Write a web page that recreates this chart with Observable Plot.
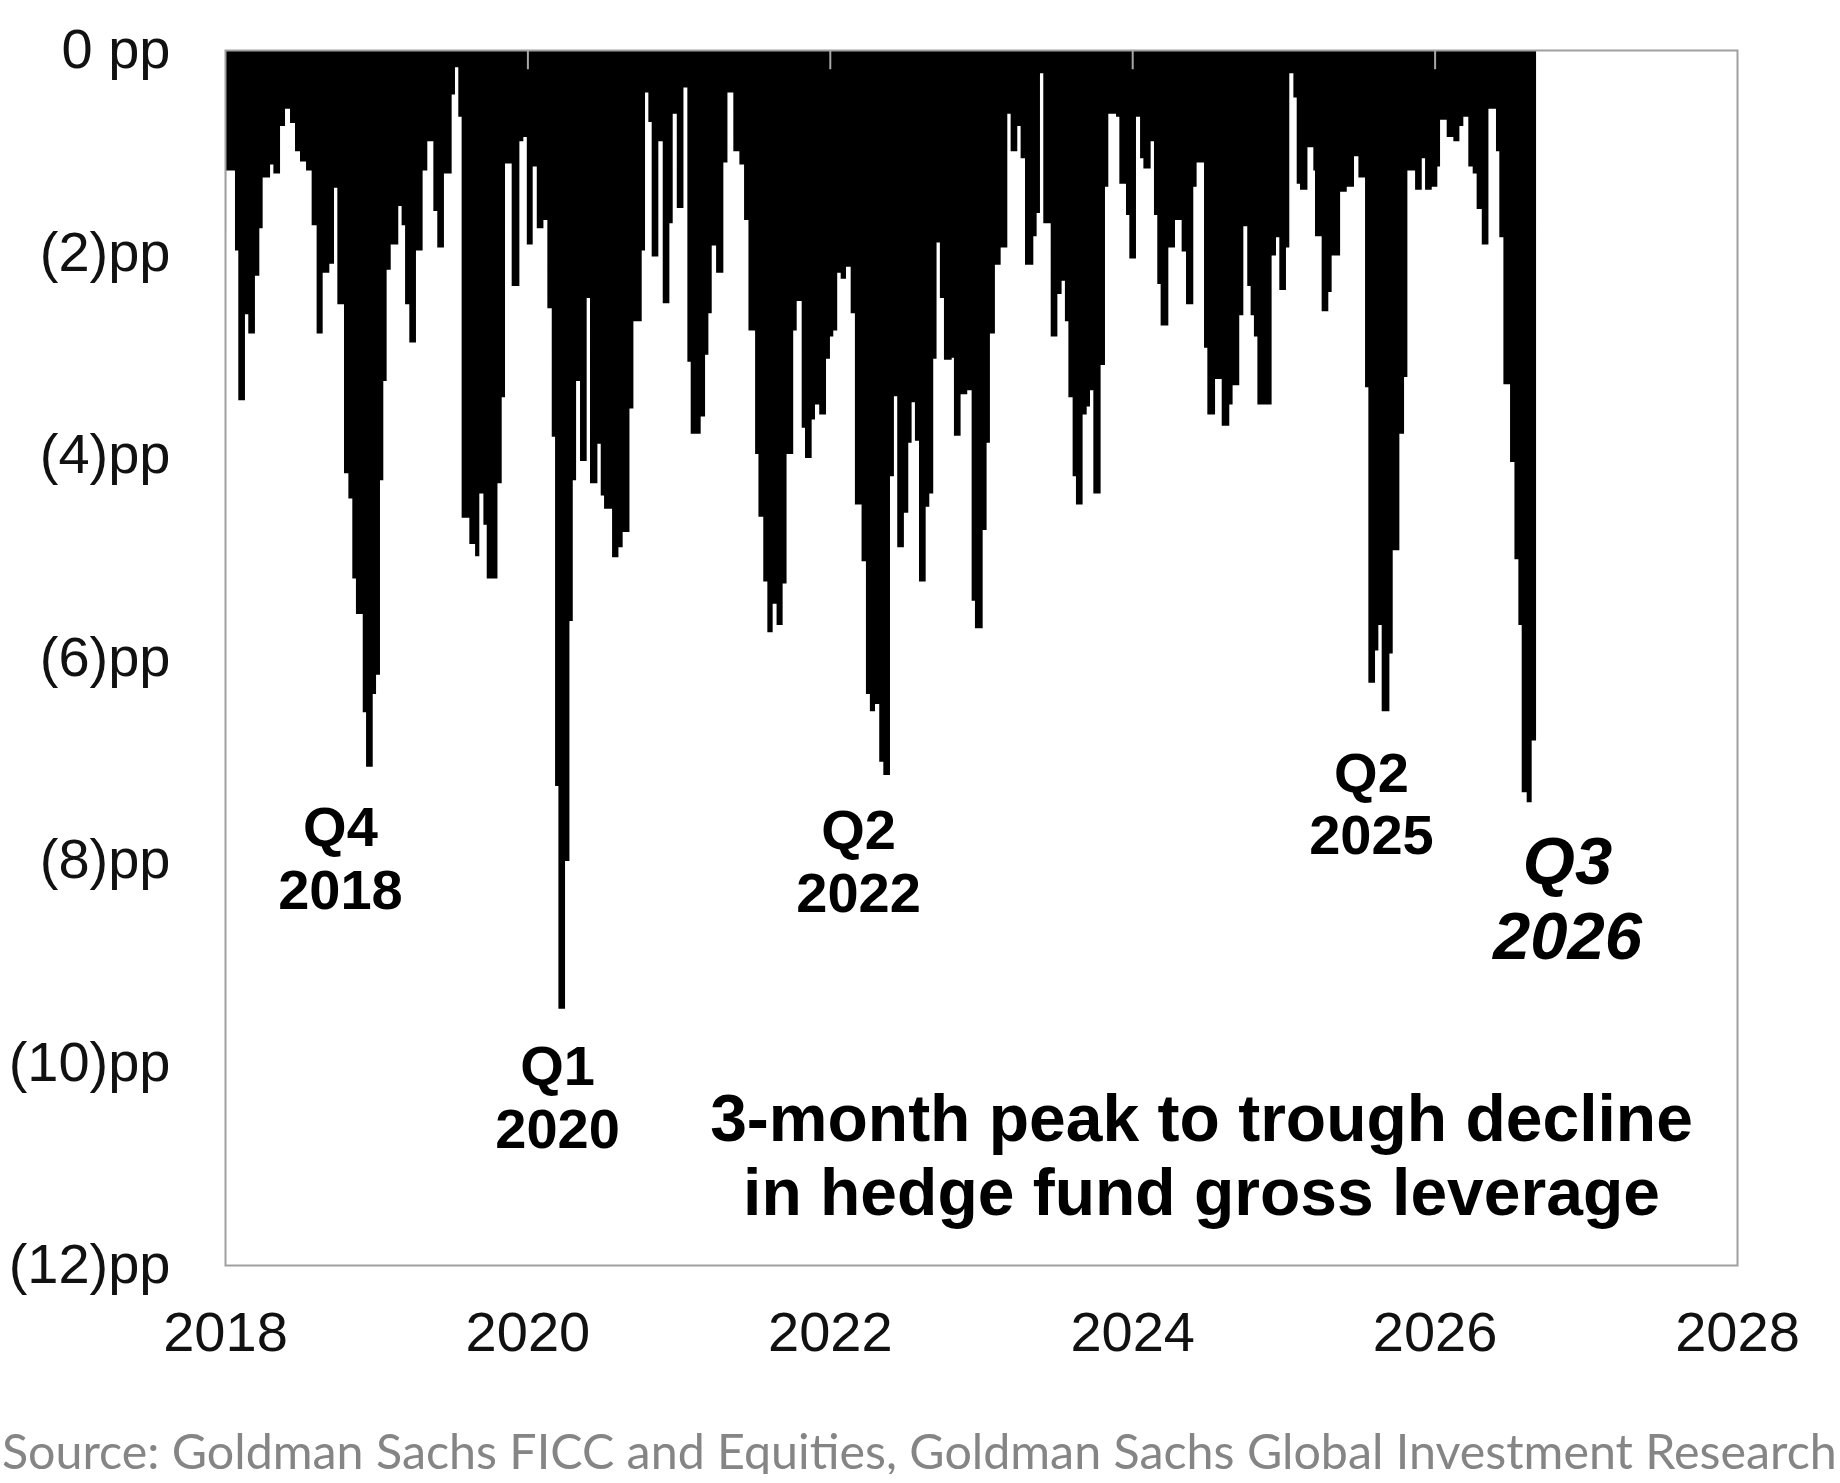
<!DOCTYPE html>
<html>
<head>
<meta charset="utf-8">
<script src="https://cdn.jsdelivr.net/npm/d3@7"></script>
<script src="https://cdn.jsdelivr.net/npm/@observablehq/plot@0.6"></script>
<style>
  html, body { margin: 0; padding: 0; background: #fff; }
  #chart svg { display: block; }
  #source {
    font-family: Lato, "Open Sans", sans-serif;
    color: #858585;
    white-space: nowrap;
    line-height: 1;
    margin-top: 26px;
    margin-left: 2px;
    font-size: 46px;
  }
</style>
</head>
<body>
<div id="chart"></div>
<div id="source"><span id="srcspan">Source: Goldman Sachs FICC and Equities, Goldman Sachs Global Investment Research</span></div>
<script>
// Week start (decimal year) and 3-month peak-to-trough decline in HF gross leverage (pp)
const weekStart = [
  2018.000, 2018.007, 2018.066, 2018.088, 2018.132, 2018.154, 2018.198, 2018.227, 2018.249, 2018.298,
  2018.320, 2018.364, 2018.397, 2018.430, 2018.463, 2018.496, 2018.536, 2018.573, 2018.606, 2018.646,
  2018.690, 2018.721, 2018.743, 2018.787, 2018.816, 2018.842, 2018.866, 2018.911, 2018.933, 2018.977,
  2018.999, 2019.025, 2019.047, 2019.069, 2019.096, 2019.146, 2019.168, 2019.191, 2019.219, 2019.263,
  2019.307, 2019.338, 2019.378, 2019.404, 2019.448, 2019.499, 2019.521, 2019.543, 2019.565, 2019.616,
  2019.654, 2019.682, 2019.709, 2019.731, 2019.802, 2019.830, 2019.852, 2019.896, 2019.947, 2019.973,
  2019.996, 2020.035, 2020.062, 2020.106, 2020.132, 2020.161, 2020.183, 2020.205, 2020.249, 2020.278,
  2020.300, 2020.322, 2020.348, 2020.392, 2020.414, 2020.463, 2020.485, 2020.507, 2020.560, 2020.602,
  2020.630, 2020.675, 2020.701, 2020.756, 2020.778, 2020.800, 2020.822, 2020.866, 2020.895, 2020.939,
  2020.961, 2020.988, 2021.032, 2021.058, 2021.080, 2021.146, 2021.175, 2021.197, 2021.219, 2021.248,
  2021.296, 2021.323, 2021.362, 2021.402, 2021.433, 2021.462, 2021.506, 2021.528, 2021.560, 2021.587,
  2021.622, 2021.648, 2021.688, 2021.714, 2021.758, 2021.781, 2021.814, 2021.836, 2021.880, 2021.902,
  2021.930, 2021.975, 2022.001, 2022.023, 2022.049, 2022.072, 2022.107, 2022.138, 2022.166, 2022.210,
  2022.239, 2022.265, 2022.299, 2022.327, 2022.354, 2022.398, 2022.424, 2022.446, 2022.490, 2022.519,
  2022.541, 2022.563, 2022.590, 2022.634, 2022.658, 2022.684, 2022.706, 2022.728, 2022.755, 2022.806,
  2022.821, 2022.865, 2022.909, 2022.938, 2022.960, 2023.011, 2023.037, 2023.059, 2023.092, 2023.130,
  2023.174, 2023.196, 2023.240, 2023.262, 2023.291, 2023.346, 2023.368, 2023.390, 2023.412, 2023.461,
  2023.505, 2023.533, 2023.555, 2023.578, 2023.606, 2023.628, 2023.672, 2023.699, 2023.721, 2023.743,
  2023.791, 2023.820, 2023.842, 2023.893, 2023.915, 2023.959, 2023.981, 2024.025, 2024.052, 2024.074,
  2024.122, 2024.144, 2024.166, 2024.188, 2024.239, 2024.283, 2024.327, 2024.356, 2024.404, 2024.426,
  2024.475, 2024.497, 2024.548, 2024.592, 2024.642, 2024.664, 2024.708, 2024.735, 2024.761, 2024.783,
  2024.805, 2024.828, 2024.922, 2024.951, 2024.973, 2025.017, 2025.039, 2025.066, 2025.088, 2025.110,
  2025.159, 2025.198, 2025.209, 2025.253, 2025.297, 2025.319, 2025.375, 2025.419, 2025.467, 2025.496,
  2025.540, 2025.562, 2025.606, 2025.628, 2025.650, 2025.701, 2025.723, 2025.767, 2025.798, 2025.820,
  2025.871, 2025.915, 2025.937, 2025.981, 2026.018, 2026.036, 2026.080, 2026.124, 2026.164, 2026.190,
  2026.223, 2026.252, 2026.278, 2026.312, 2026.356, 2026.406, 2026.428, 2026.455, 2026.499, 2026.528,
  2026.554, 2026.576, 2026.609, 2026.642, 2026.671
];
const decline = [
  -1.79, -1.19, -1.98, -3.46, -2.61, -2.80, -2.23, -1.76, -1.26, -1.13,
  -1.22, -0.75, -0.58, -0.72, -1.00, -1.10, -1.19, -1.73, -2.80, -2.20,
  -2.11, -1.36, -2.51, -4.18, -4.43, -5.22, -5.57, -6.54, -7.08, -6.36,
  -6.17, -4.25, -3.27, -2.17, -1.92, -1.54, -1.73, -2.51, -2.89, -1.98,
  -1.19, -0.90, -1.59, -1.95, -1.22, -0.44, -0.17, -0.66, -4.62, -4.88,
  -5.00, -4.38, -4.69, -5.22, -4.28, -3.43, -1.12, -2.33, -0.90, -0.86,
  -1.92, -1.15, -1.76, -1.68, -2.55, -3.82, -7.27, -9.47, -8.01, -5.64,
  -4.25, -3.27, -4.06, -2.45, -4.28, -3.89, -4.40, -4.53, -5.01, -4.91,
  -4.76, -3.54, -2.68, -1.98, -0.42, -0.71, -2.04, -0.90, -2.50, -1.71,
  -0.63, -1.56, -0.37, -3.08, -3.79, -3.62, -3.01, -2.60, -1.93, -2.20,
  -1.11, -0.42, -1.00, -1.13, -1.68, -2.77, -3.99, -4.61, -5.25, -5.75,
  -5.47, -5.68, -5.27, -3.99, -2.77, -2.48, -3.73, -4.03, -3.65, -3.50,
  -3.60, -3.05, -2.83, -2.77, -2.20, -2.26, -2.14, -2.60, -4.49, -5.05,
  -6.36, -6.53, -6.46, -7.03, -7.16, -4.21, -3.42, -4.91, -4.57, -3.88,
  -3.48, -3.86, -5.25, -4.51, -4.38, -3.05, -1.90, -2.45, -3.06, -3.04,
  -3.81, -3.40, -3.36, -5.44, -5.71, -4.74, -3.88, -2.80, -2.12, -1.95,
  -0.63, -1.00, -0.75, -1.07, -2.12, -1.84, -1.61, -0.23, -1.71, -2.83,
  -2.41, -2.28, -2.68, -3.43, -4.21, -4.49, -3.60, -3.52, -3.36, -4.38,
  -3.11, -1.35, -0.63, -0.66, -1.32, -1.63, -2.06, -0.66, -1.07, -1.17,
  -0.90, -1.63, -2.31, -2.72, -1.95, -1.68, -1.99, -2.51, -1.35, -1.11,
  -2.94, -3.60, -3.25, -3.71, -3.50, -3.31, -2.62, -1.74, -2.33, -2.62,
  -2.83, -3.50, -2.03, -1.85, -2.37, -1.95, -0.23, -0.47, -1.32, -1.38,
  -0.96, -1.19, -1.84, -2.58, -2.39, -2.03, -1.40, -1.35, -1.05, -1.26,
  -3.33, -6.25, -5.93, -5.68, -6.53, -5.96, -4.94, -3.79, -3.23, -1.19,
  -1.38, -1.07, -1.38, -1.35, -1.15, -0.69, -0.86, -0.90, -0.75, -0.66,
  -1.15, -1.22, -1.57, -1.92, -0.58, -1.00, -1.85, -3.30, -4.07, -5.03,
  -5.68, -7.33, -7.43, -6.82, -6.82
];
const yearTicks = [2018, 2020, 2022, 2024, 2026, 2028];
const ppTicks = [0, -2, -4, -6, -8, -10, -12];
const episodeLabels = ["Q4\n2018", "Q1\n2020", "Q2\n2022", "Q2\n2025"];
const episodeYears = [2018.76, 2020.196, 2022.187, 2025.579];
const episodeValues = [-7.97, -10.33, -8.00, -7.43];

const n = Math.min(weekStart.length, decline.length);
const series = d3.range(n).map(i => ({t: weekStart[i], v: decline[i]}));
const episodes = episodeLabels.map((s, i) => ({text: s, x: episodeYears[i], y: episodeValues[i]}));

const FONT = "'Liberation Sans', Arial, Helvetica, sans-serif";

const chart = Plot.plot({
  width: 1840,
  height: 1400,
  marginLeft: 225,
  marginRight: 103,
  marginTop: 50,
  marginBottom: 135,
  style: {fontFamily: FONT, color: "#111", background: "#fff", overflow: "visible"},
  x: {type: "linear", domain: [2018, 2028]},
  y: {domain: [-12, 0]},
  marks: [
    Plot.areaY(series, {x: "t", y: "v", curve: "step-after", fill: "#000"}),
    Plot.frame({stroke: "#a0a0a0", strokeWidth: 2}),
    Plot.ruleX(yearTicks.slice(1, -1), {x: d => d, y1: 0, y2: -0.19, stroke: "#a8a8a8", strokeWidth: 2}),
    Plot.axisY({ticks: ppTicks, tickSize: 0, tickPadding: 55, fontSize: 56,
      tickFormat: d => d === 0 ? "0 pp" : `(${-d})pp`, label: null}),
    Plot.axisX({ticks: yearTicks, tickSize: 0, tickPadding: 46, fontSize: 56,
      tickFormat: d => String(d), label: null}),
    Plot.text(episodes, {x: "x", y: "y", text: "text", fontSize: 56, fontWeight: "bold",
      lineHeight: 1.12, fill: "#000", textAnchor: "middle"}),
    Plot.text(["Q3\n2026"], {x: 2026.876, y: -8.37, fontSize: 67, fontWeight: "bold",
      fontStyle: "italic", lineHeight: 1.12, fill: "#000", textAnchor: "middle"}),
    Plot.text(["3-month peak to trough decline\nin hedge fund gross leverage"],
      {x: 2024.455, y: -10.90, fontSize: 66, fontWeight: "bold", lineHeight: 1.12,
       fill: "#000", textAnchor: "middle"})
  ]
});
document.getElementById("chart").appendChild(chart);

// fit caption to the page width
const span = document.getElementById("srcspan");
const w = span.getBoundingClientRect().width;
if (w > 0) {
  const fs = 46 * 1835 / w;
  document.getElementById("source").style.fontSize = fs.toFixed(2) + "px";
}
</script>
</body>
</html>
